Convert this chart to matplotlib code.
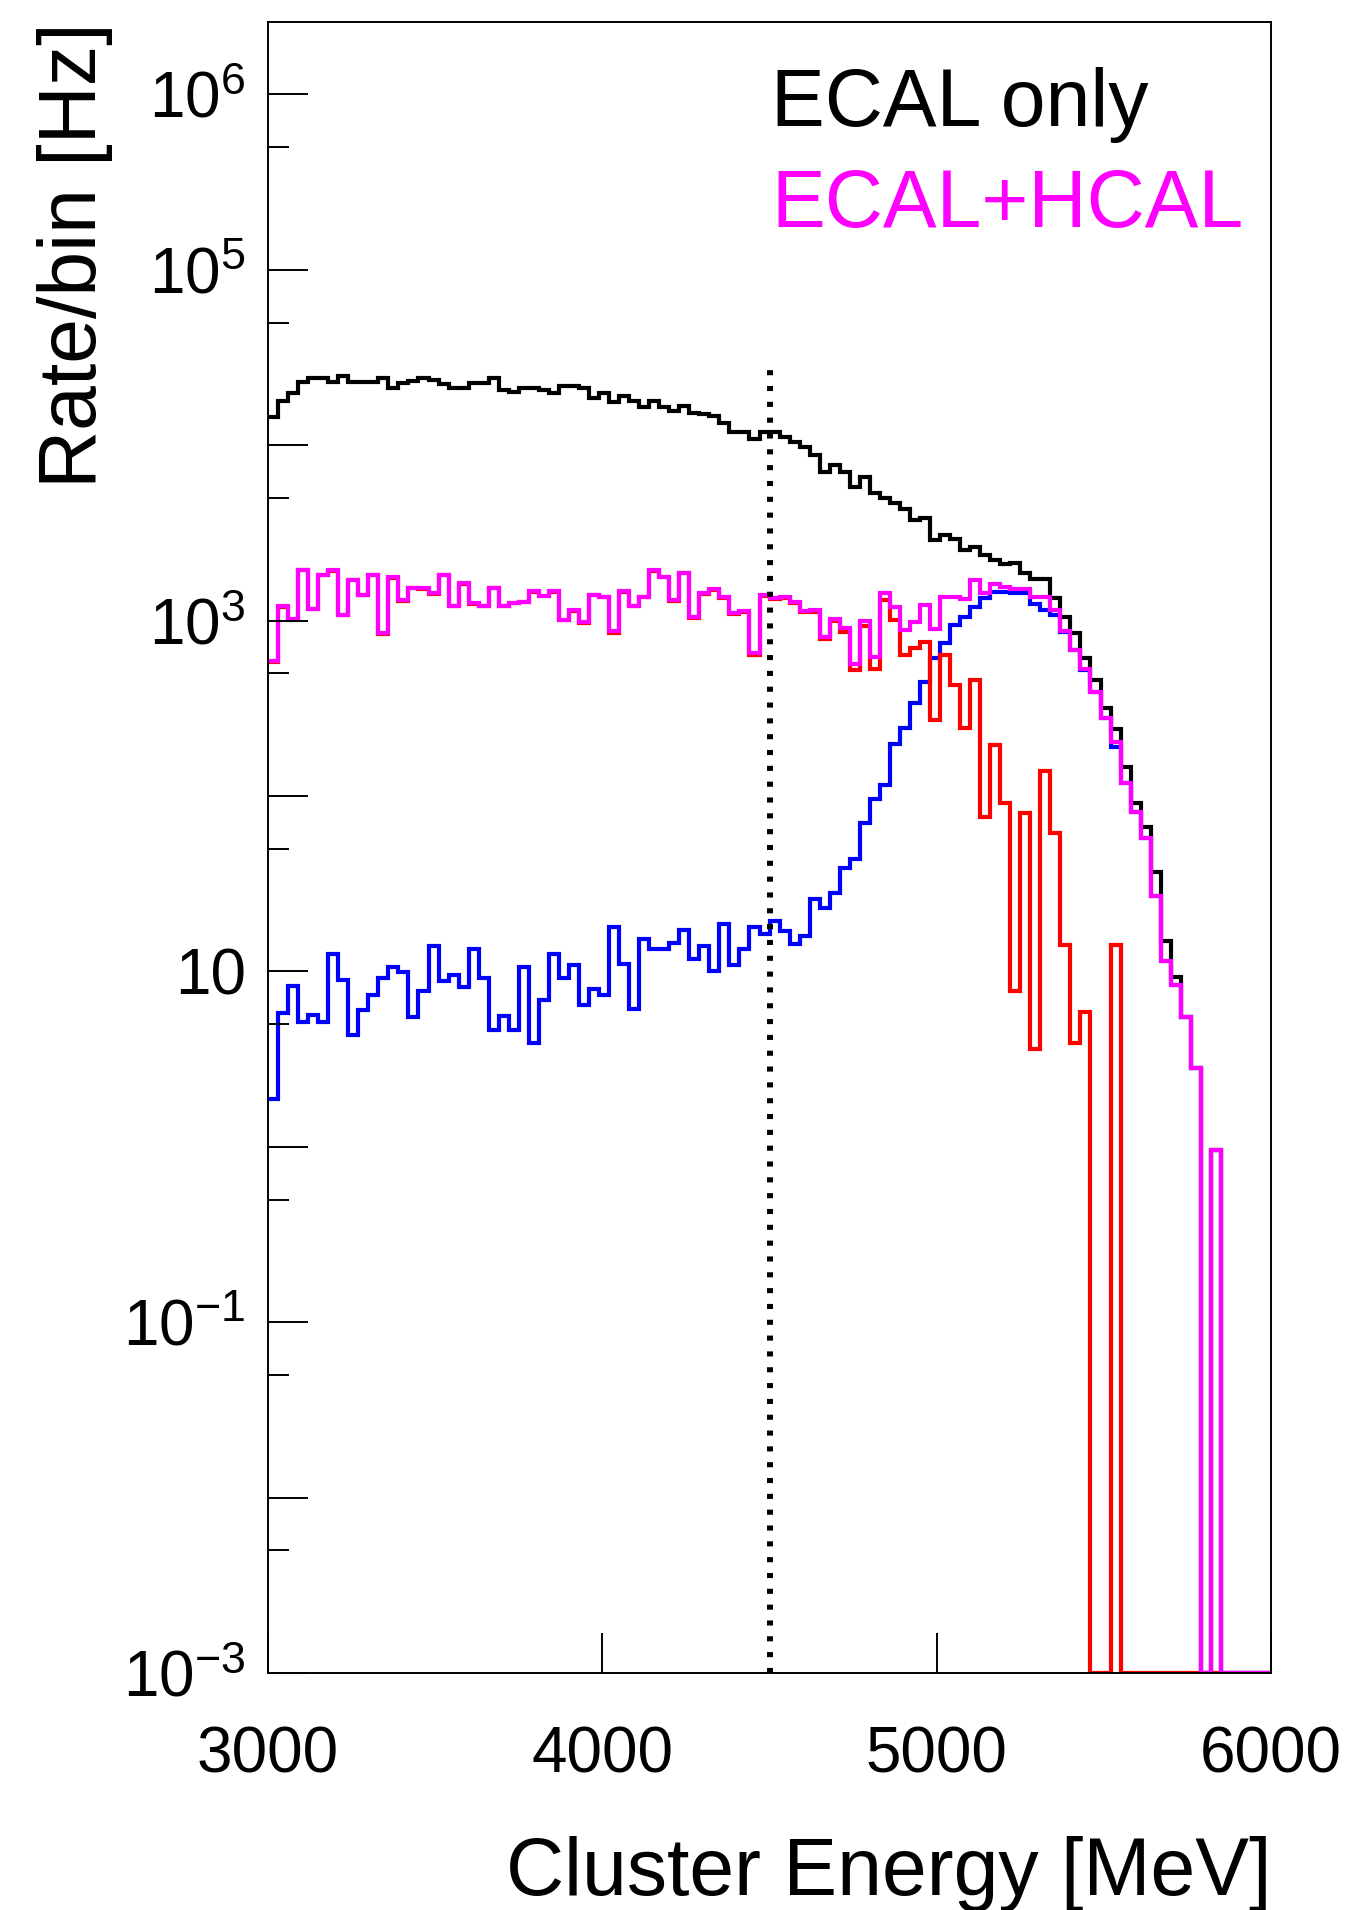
import numpy as np
import matplotlib
matplotlib.use("Agg")
import matplotlib.pyplot as plt
from matplotlib.ticker import FixedLocator, FixedFormatter, NullFormatter

# Fonte parecida com Helvetica (estilo ROOT)
plt.rcParams['font.family'] = ['Liberation Sans', 'DejaVu Sans']
plt.rcParams['mathtext.fontset'] = 'custom'
plt.rcParams['mathtext.rm'] = 'Liberation Sans'
plt.rcParams['mathtext.it'] = 'Liberation Sans:italic'
plt.rcParams['mathtext.sf'] = 'Liberation Sans'

# Binning: 100 bins de 30 MeV entre 3000 e 6000 MeV
e_min, e_max, n_bins = 3000, 6000, 100
cut_energy = 4500      # linha pontilhada
cut_top = 3.0e4

# Rate/bin [Hz] (0 = bin vazio)
ecal_only = [
    14400, 17900, 19800, 23000, 24200, 24200, 23000, 24800, 23000, 23000,
    23000, 24200, 21300, 22500, 23200, 24200, 23500, 22200, 21300, 21300,
    22500, 22500, 24200, 20600, 20000, 21300, 21300, 20600, 19800, 21800,
    21800, 21100, 18500, 19800, 17700, 19100, 17900, 16600, 17900, 16600,
    15600, 16800, 15200, 15000, 14600, 13400, 11900, 11900, 10900, 11900,
    11900, 11200, 10500, 9820, 8790, 7060, 7710, 7060, 5750, 6620,
    5370, 4980, 4670, 4310, 3750, 3830, 2880, 3080, 2910, 2530,
    2620, 2370, 2220, 2100, 2140, 1880, 1720, 1720, 1340, 1050,
    847, 610, 459, 316, 240, 147, 91.6, 66.8, 37.1, 15.0,
    9.3, 5.5, 2.8, 0, 0.955, 0, 0, 0, 0, 0]

ecal_hcal = [
    589, 1205, 1021, 1941, 1164, 1820, 1941, 1081, 1706, 1403,
    1820, 851, 1766, 1303, 1531, 1531, 1432, 1820, 1216, 1633,
    1259, 1216, 1531, 1216, 1259, 1285, 1466, 1384, 1466, 1014,
    1143, 979, 1403, 1371, 871, 1466, 1216, 1371, 1941, 1778,
    1315, 1875, 1050, 1432, 1510, 1371, 1104, 1130, 656, 1403,
    1340, 1358, 1282, 1140, 1151, 811, 1019, 904, 566, 1000,
    624, 1432, 1202, 885, 986, 1227, 893, 1358, 1358, 1324,
    1706, 1432, 1618, 1549, 1510, 1510, 1358, 1358, 1151, 877,
    680, 527, 394, 277, 204, 118, 81.5, 57.4, 26.9, 11.4,
    8.4, 5.5, 2.8, 0, 0.955, 0, 0, 0, 0, 0]

red_hist = [
    579, 1199, 1013, 1936, 1159, 1815, 1928, 1072, 1702, 1397,
    1813, 842, 1755, 1293, 1525, 1523, 1418, 1811, 1206, 1625,
    1245, 1207, 1526, 1211, 1254, 1274, 1462, 1377, 1453, 1005,
    1132, 973, 1395, 1364, 853, 1455, 1210, 1356, 1927, 1765,
    1300, 1858, 1038, 1418, 1500, 1352, 1093, 1116, 638, 1387,
    1321, 1341, 1268, 1124, 1125, 788, 991, 865, 522, 930,
    528, 1316, 1004, 637, 695, 759, 272, 637, 430, 243,
    459, 76.2, 195, 90.8, 7.7, 79.6, 3.6, 138, 61.2, 14.1,
    3.9, 5.9, 0, 0, 14.1, 0, 0, 0, 0, 0,
    0, 0, 0, 0, 0, 0, 0, 0, 0, 0]

blue_hist = [
    1.87, 5.77, 8.3, 5.15, 5.62, 5.15, 12.6, 8.9, 4.33, 6.03,
    7.38, 9.17, 10.6, 9.9, 5.52, 7.7, 14.0, 8.8, 9.5, 8.2,
    13.5, 9.17, 4.64, 5.57, 4.64, 10.6, 3.9, 6.85, 12.6, 9.17,
    10.9, 6.4, 7.9, 7.38, 17.9, 11.0, 6.1, 15.4, 13.5, 13.5,
    14.6, 17.3, 11.7, 14.0, 10.1, 18.6, 10.9, 13.5, 17.9, 16.3,
    19.4, 17.0, 14.4, 15.9, 26.0, 22.9, 28.0, 38.7, 44.0, 70.0,
    96.0, 116, 198, 243, 338, 449, 610, 743, 945, 1054,
    1191, 1341, 1463, 1463, 1430, 1430, 1250, 1150, 1080, 863,
    676, 521, 394, 277, 190, 118, 81.5, 57.4, 26.9, 11.4,
    8.4, 5.5, 2.8, 0, 0.955, 0, 0, 0, 0, 0]

# Eixo y: decadas, so algumas com rotulo (como no ROOT)
ytick_exps = [-3, -2, -1, 0, 1, 2, 3, 4, 5, 6]
ytick_labels = [r'$10^{-3}$', '', r'$10^{-1}$', '', '10', '', r'$10^{3}$', '', r'$10^{5}$', r'$10^{6}$']
xticks = [3000, 4000, 5000, 6000]
y_min, y_max = 1e-3, 2.59e6

fig = plt.figure(figsize=(13.49, 19.10), dpi=100)
ax = fig.add_axes([0.1987, 0.1241, 0.7435, 0.8644])

edges = np.linspace(e_min, e_max, n_bins + 1)

def draw_hist(vals, color):
    v = np.array(vals, dtype=float)
    v = np.where(v > 0, v, y_min)  # bins vazios ficam no fundo
    ax.stairs(v, edges, baseline=None, color=color, lw=3.0)

draw_hist(ecal_only, 'black')
draw_hist(blue_hist, '#0000ff')
draw_hist(red_hist, '#ff0000')
draw_hist(ecal_hcal, '#ff00ff')

ax.plot([cut_energy, cut_energy], [y_min, cut_top], color='black', lw=4.3,
        linestyle=(0, (0.85, 1.8)), dash_capstyle='butt')

ax.set_yscale('log')
ax.set_xlim(e_min, e_max)
ax.set_ylim(y_min, y_max)

ax.yaxis.set_major_locator(FixedLocator([10.0 ** k for k in ytick_exps]))
ax.yaxis.set_major_formatter(FixedFormatter(ytick_labels))
ax.yaxis.set_minor_locator(FixedLocator([5 * 10.0 ** k for k in range(-3, 6)]))
ax.yaxis.set_minor_formatter(NullFormatter())
ax.set_xticks(xticks)
ax.set_xticklabels([str(x) for x in xticks])

ax.tick_params(axis='both', which='major', direction='in', length=29, width=1.4,
               labelsize=46, top=False, right=False)
ax.tick_params(axis='y', which='minor', direction='in', length=15, width=1.4, right=False)
ax.tick_params(axis='y', which='major', pad=16)
ax.tick_params(axis='x', which='major', pad=38)
for s in ax.spines.values():
    s.set_linewidth(1.4)

fig.text(1271 / 1349, 15 / 1910, 'Cluster Energy [MeV]', ha='right', va='baseline', fontsize=58)
fig.text(37 / 1349, 0.9885, 'Rate/bin [Hz]', rotation=90, ha='left', va='top', fontsize=58)

fig.text(0.5715, 1 - 126 / 1910, 'ECAL only', color='black', fontsize=58, va='baseline')
fig.text(0.5715, 1 - 227 / 1910, 'ECAL+HCAL', color='#ff00ff', fontsize=58, va='baseline')

fig.savefig('out.png', dpi=100)
